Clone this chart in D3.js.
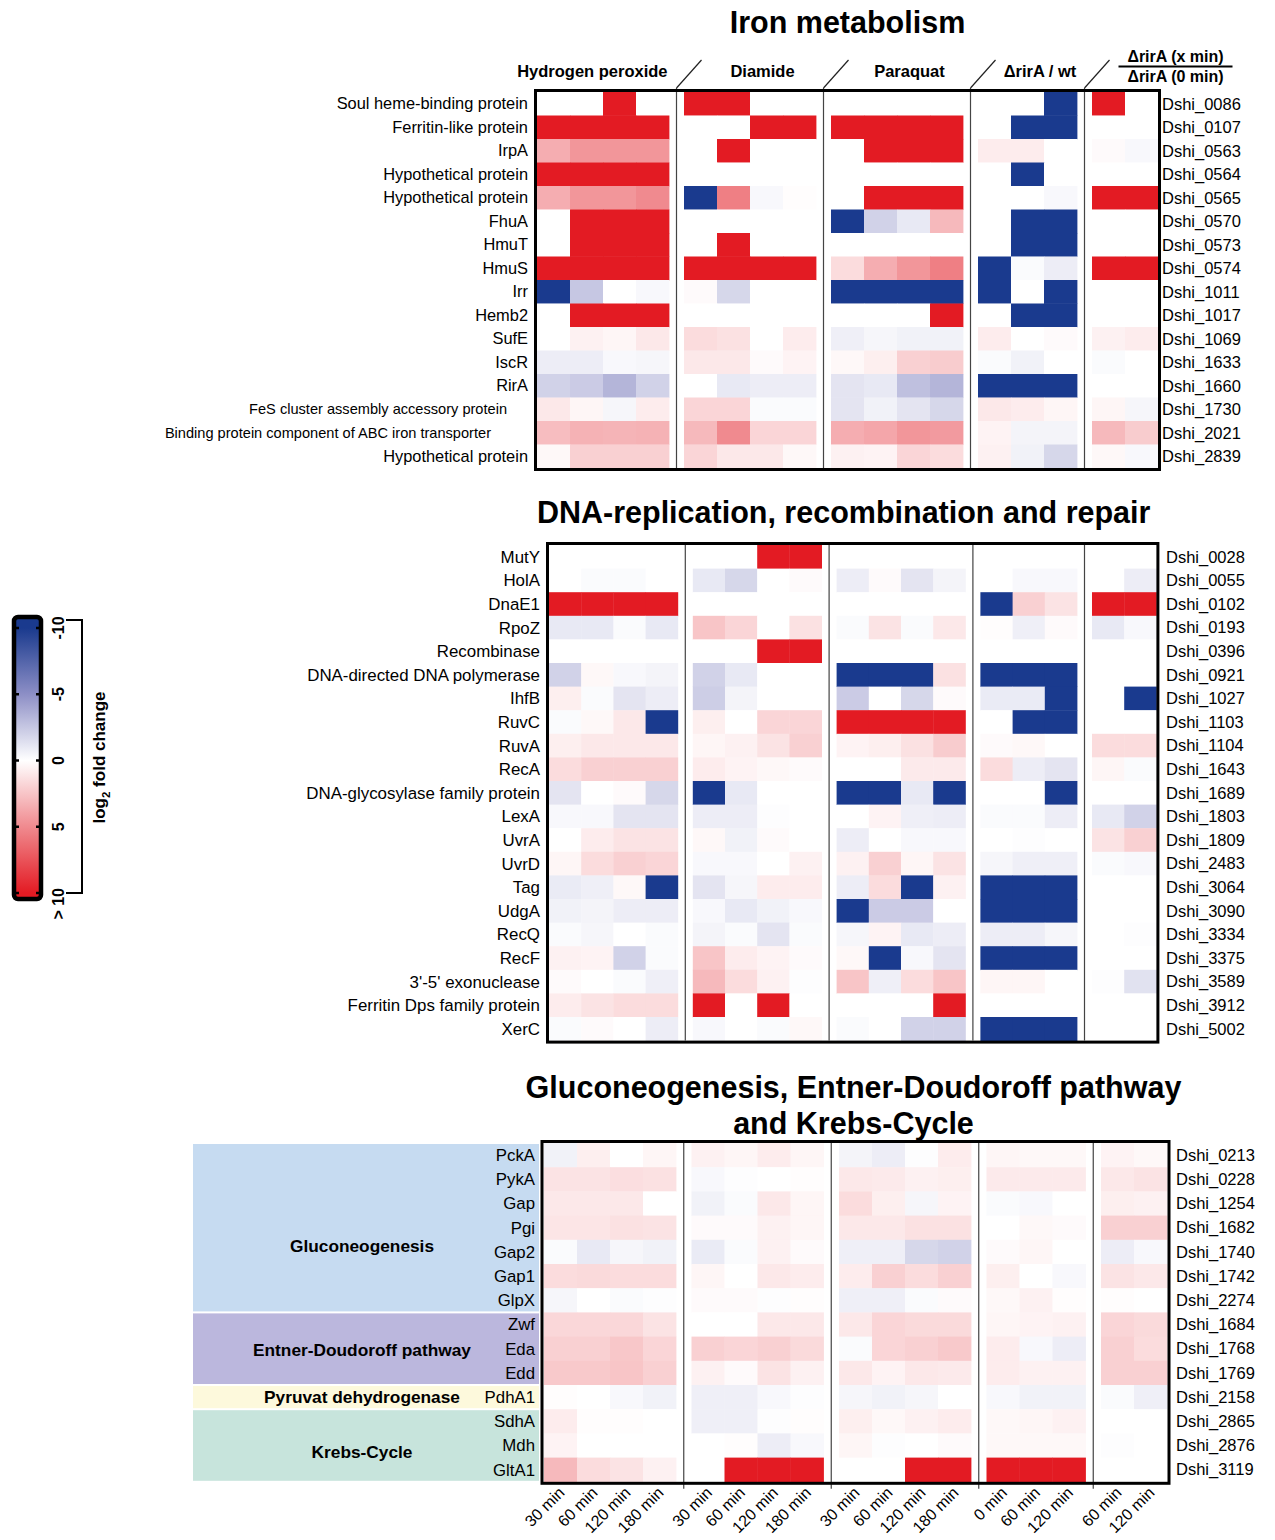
<!DOCTYPE html>
<html>
<head>
<meta charset="utf-8">
<script src="https://cdn.jsdelivr.net/npm/d3@7"></script>
<style>
  body { margin: 0; background: #fff; }
  svg { font-family: "Liberation Sans", Arial, Helvetica, sans-serif; }
</style>
</head>
<body>
<div id="chart"></div>
<script>
// ---- data ----
const conditions = ["Hydrogen peroxide", "Diamide", "Paraquat", "\u0394rirA / wt", "\u0394rirA (x min) / \u0394rirA (0 min)"];
const conditionTimes = [
  ["30 min", "60 min", "120 min", "180 min"],
  ["30 min", "60 min", "120 min", "180 min"],
  ["30 min", "60 min", "120 min", "180 min"],
  ["0 min", "60 min", "120 min"],
  ["60 min", "120 min"]
];

const ironGenes = ["Soul heme-binding protein", "Ferritin-like protein", "IrpA", "Hypothetical protein",
  "Hypothetical protein", "FhuA", "HmuT", "HmuS", "Irr", "Hemb2", "SufE", "IscR", "RirA",
  "FeS cluster assembly accessory protein", "Binding protein component of ABC iron transporter", "Hypothetical protein"];
const ironIds = ["Dshi_0086", "Dshi_0107", "Dshi_0563", "Dshi_0564", "Dshi_0565", "Dshi_0570", "Dshi_0573",
  "Dshi_0574", "Dshi_1011", "Dshi_1017", "Dshi_1069", "Dshi_1633", "Dshi_1660", "Dshi_1730", "Dshi_2021", "Dshi_2839"];
const ironValues = [
  [0, 0, 10, 0,   10, 10, 0, 0,   0, 0, 0, 0,   0, 0, -10,   10, 0],
  [10, 10, 10, 10,   0, 0, 10, 10,   10, 10, 10, 10,   0, -10, -10,   0, 0],
  [3.5, 4.5, 4.5, 4.5,   0, 10, 0, 0,   0, 10, 10, 10,   0.8, 0.8, 0,   0.2, -0.3],
  [10, 10, 10, 10,   0, 0, 0, 0,   0, 0, 0, 0,   0, -10, 0,   0, 0],
  [3.5, 4.5, 4.5, 5,   -10, 5.5, -0.3, 0.1,   0, 10, 10, 10,   0, 0, -0.3,   10, 10],
  [0, 10, 10, 10,   0, 0, 0, 0,   -10, -2, -1, 3,   0, -10, -10,   0, 0],
  [0, 10, 10, 10,   0, 10, 0, 0,   0, 0, 0, 0,   0, -10, -10,   0, 0],
  [10, 10, 10, 10,   10, 10, 10, 10,   1.5, 3.5, 4.5, 5.5,   -10, -0.2, -0.8,   10, 10],
  [-10, -2.5, 0, -0.3,   0.2, -1.8, 0, 0,   -10, -10, -10, -10,   -10, 0, -10,   0, 0],
  [0, 10, 10, 10,   0, 0, 0, 0,   0, 0, 0, 10,   0, -10, -10,   0, 0],
  [0, 0.6, 0.4, 1,   1.5, 1.3, 0, 0.8,   -0.7, -0.4, -0.6, -0.6,   0.8, 0, 0.2,   0.6, 0.8],
  [-0.8, -0.8, -0.3, -0.4,   1, 1, 0.2, 0.5,   0.3, 0.7, 2, 2.2,   -0.2, -0.6, 0,   -0.2, 0],
  [-2, -2.3, -3.3, -2,   0, -1, -0.8, -0.8,   -1.2, -1, -2.8, -3.3,   -10, -10, -10,   0, 0],
  [1, 0.4, -0.4, 0.8,   1.8, 1.8, -0.2, -0.2,   -1.2, -0.6, -1.2, -1.8,   1, 0.8, 0.4,   0.4, -0.4],
  [2.8, 3.3, 3.2, 3.3,   3, 5, 1.8, 1.8,   3.5, 3.8, 4.5, 4.3,   0.5, -0.5, -0.5,   3, 2.2],
  [0.3, 2, 2, 2,   1.8, 1, 1, 0.3,   0.6, 0.5, 1.8, 1.5,   0.6, -0.6, -1.8,   0.3, -0.3]
];

const dnaGenes = ["MutY", "HolA", "DnaE1", "RpoZ", "Recombinase", "DNA-directed DNA polymerase", "IhfB", "RuvC",
  "RuvA", "RecA", "DNA-glycosylase family protein", "LexA", "UvrA", "UvrD", "Tag", "UdgA", "RecQ", "RecF",
  "3'-5' exonuclease", "Ferritin Dps family protein", "XerC"];
const dnaIds = ["Dshi_0028", "Dshi_0055", "Dshi_0102", "Dshi_0193", "Dshi_0396", "Dshi_0921", "Dshi_1027",
  "Dshi_1103", "Dshi_1104", "Dshi_1643", "Dshi_1689", "Dshi_1803", "Dshi_1809", "Dshi_2483", "Dshi_3064",
  "Dshi_3090", "Dshi_3334", "Dshi_3375", "Dshi_3589", "Dshi_3912", "Dshi_5002"];
const dnaValues = [
  [0, 0, 0, 0,   0, 0, 10, 10,   0, 0, 0, 0,   0, 0, 0,   0, 0],
  [0, -0.2, -0.2, 0,   -1, -1.8, 0, 0.2,   -0.8, 0.2, -1.2, -0.5,   0, -0.3, -0.3,   0, -0.8],
  [10, 10, 10, 10,   0, 0, 0, 0,   0, 0, 0, 0,   -10, 2, 1.2,   10, 10],
  [-1, -1, -0.2, -1,   2.5, 1.8, 0, 1.3,   -0.2, 1.2, -0.2, 1,   0.1, -0.7, 0.2,   -1, -0.3],
  [0, 0, 0, 0,   0, 0, 10, 10,   0, 0, 0, 0,   0, 0, 0,   0, 0],
  [-2, 0.3, -0.3, -0.5,   -2, -1, 0, 0,   -10, -10, -10, 1.3,   -10, -10, -10,   0, 0],
  [0.7, -0.2, -1.2, -0.8,   -2.2, -0.5, 0, 0,   -2.3, 0, -1.8, 0.2,   -0.9, -0.9, -10,   0, -10],
  [-0.2, 0.3, 1, -10,   0.7, 0, 1.8, 1.8,   10, 10, 10, 10,   0, -10, -10,   0, 0],
  [0.7, 1, 1, 1,   0.4, 0.6, 1.2, 2,   0.5, 0.7, 1.3, 2.2,   0.2, 0.3, 0,   1.5, 1.5],
  [1.5, 2, 2, 2,   0.8, 0.5, 0.3, 0.2,   0, 0, 0.9, 0.9,   1.5, -0.8, -1.2,   0.4, -0.2],
  [-1.2, 0, 0.2, -1.8,   -10, -1, 0, 0,   -10, -10, -1, -10,   0, 0, -10,   0, 0],
  [-0.3, -0.3, -1.2, -1.2,   -0.8, -0.8, -0.1, 0,   0, 0.5, -0.7, -0.8,   -0.2, -0.2, -0.8,   -1, -2],
  [0, 0.8, 1.2, 1.2,   0.3, -0.6, 0.2, 0,   -0.8, 0, -0.3, -0.3,   0, -0.1, 0,   1.2, 2],
  [0.4, 1.5, 2, 1.8,   -0.3, -0.3, 0, 0.6,   0.6, 2, 0.4, 1.2,   -0.4, -0.7, -0.7,   -0.2, -0.3],
  [-0.9, -0.7, 0.3, -10,   -1.2, -0.4, 0.8, 0.8,   -0.8, 1.5, -10, 0.6,   -10, -10, -10,   0, 0],
  [-0.6, -0.5, -0.8, -0.8,   -0.3, -1, -0.6, -0.3,   -10, -2.3, -2.3, 0,   -10, -10, -10,   0, 0],
  [-0.2, -0.4, 0, -0.2,   -0.5, -0.2, -1.2, -0.2,   -0.4, 0.5, -1, -0.8,   -0.8, -0.8, -0.4,   0, -0.1],
  [0.6, 0.5, -2, -0.2,   2.5, 0.8, 0.5, 0.2,   0.3, -10, -0.3, -1.2,   -10, -10, -10,   0, 0],
  [0.2, 0, -0.2, -0.7,   3, 1.5, 0.6, -0.1,   2.5, -0.7, 1.5, 2.5,   0.4, 0.4, 0,   -0.1, -1.3],
  [0.8, 1.2, 1.5, 1.5,   10, 0, 10, 0,   0, 0, 0, 10,   0, 0, 0,   0, 0],
  [-0.2, 0.2, 0, -0.8,   -0.3, 0, -0.2, 0.3,   -0.2, 0, -2, -2,   -10, -10, -10,   0, 0]
];

const glucoGenes = ["PckA", "PykA", "Gap", "Pgi", "Gap2", "Gap1", "GlpX", "Zwf", "Eda", "Edd", "PdhA1", "SdhA", "Mdh", "GltA1"];
const glucoIds = ["Dshi_0213", "Dshi_0228", "Dshi_1254", "Dshi_1682", "Dshi_1740", "Dshi_1742", "Dshi_2274",
  "Dshi_1684", "Dshi_1768", "Dshi_1769", "Dshi_2158", "Dshi_2865", "Dshi_2876", "Dshi_3119"];
const glucoValues = [
  [-0.6, 0.7, 0, 0.4,   0.6, 0.4, 0.8, 0.4,   -0.5, -0.8, -0.1, 0.8,   0.4, 0.3, 0.3,   0.5, 0.3],
  [1.2, 1.2, 1.4, 1.3,   -0.3, -0.1, 0, 0.1,   1, 0.9, 0.6, 0.7,   0.9, 0.9, 0.9,   1, 1.2],
  [1, 1, 1, 0,   -0.6, -0.2, 1, 0.4,   1.5, 0.7, -0.4, 0.5,   -0.2, -0.3, 0,   0.7, 0.6],
  [1.1, 1.1, 1.3, 1.2,   0.2, 0.2, 0.6, 0.4,   1, 1, 1.3, 1.3,   0, 0.3, 0.2,   2, 2],
  [-0.2, -1, -0.4, -0.6,   -0.9, -0.2, 0.6, 0.2,   -0.7, -0.7, -1.8, -2,   0.2, 0.4, 0,   -0.8, -0.3],
  [1.5, 1.6, 1.5, 1.5,   0.4, 0, 1, 0.8,   0.8, 2, 1.5, 2,   0.7, 0, -0.3,   1.2, 1],
  [-0.4, 0, -0.2, -0.1,   0.2, 0.2, -0.1, 0.1,   -0.7, -0.7, -0.2, 0.2,   0.3, 0.6, 0.1,   0.1, 0],
  [1.7, 1.7, 1.7, 1.2,   0, 0, 1, 1,   1, 1.8, 1.6, 1.6,   0.4, 0.5, 0.6,   1.8, 1.6],
  [2, 2, 2.4, 1.8,   2, 1.8, 2, 1.6,   -0.2, 1.8, 2, 2.3,   0.8, -0.3, -0.8,   2, 1.5],
  [2.3, 2.3, 2.5, 2,   0.6, 0.2, 1.2, 0.6,   1, 0.5, 1, 0.9,   0.8, 0.6, 0.6,   2, 2],
  [0.1, 0, -0.3, -0.6,   -0.7, -0.7, -0.3, -0.1,   -0.4, -0.6, -0.4, 0,   -0.3, -0.6, -0.6,   -0.2, -0.7],
  [0.8, 0.1, 0.1, 0,   -0.7, -0.7, -0.1, 0.1,   0.7, 0.3, 0.6, 0.8,   0.3, 0.4, 0.6,   0, 0],
  [0.5, 0, 0, 0,   0, 0.1, -0.8, -0.3,   0.4, -0.1, 0, 0.2,   0.3, 0.3, 0.3,   -0.1, 0],
  [3, 1.5, 1.2, 0.6,   0, 10, 10, 10,   0, 0, 10, 10,   10, 10, 10,   0, 0]
];
const glucoGroupNames = ["Gluconeogenesis", "Entner-Doudoroff pathway", "Pyruvat dehydrogenase", "Krebs-Cycle"];
const glucoGroupSizes = [7, 3, 1, 3];

const colorTicks = [-10, -5, 0, 5, 10];
const colorTickLabels = ["-10", "-5", "0", "5", "> 10"];

// ---- drawing ----
const width = 1275, height = 1540;
const svg = d3.select("#chart").append("svg")
  .attr("width", width)
  .attr("height", height);

const color = d3.scaleLinear()
  .domain([-10, -5, 0, 5, 10])
  .range(["#1a3a8e", "#8d8fc6", "#ffffff", "#f08a8f", "#e31b23"])
  .clamp(true);

const columns = conditionTimes.flatMap((times, g) => times.map(t => ({ g, t })));

function drawPanel(cfg, genes, ids, values) {
  const g = svg.append("g");
  let start = cfg.x0;
  const xs = conditionTimes.map(times => {
    const s = d3.scaleBand().domain(times).range([start, start + times.length * cfg.cellW]);
    start += times.length * cfg.cellW + cfg.gap;
    return s;
  });
  const right = xs[xs.length - 1].range()[1];
  const y = d3.scaleBand().domain(d3.range(genes.length))
    .range([cfg.top, cfg.top + genes.length * cfg.rowH]);
  const bottom = y.range()[1];

  // cells
  values.forEach((row, r) => {
    g.selectAll(null)
      .data(row)
      .enter().append("rect")
      .attr("x", (d, i) => xs[columns[i].g](columns[i].t))
      .attr("y", y(r))
      .attr("width", xs[0].bandwidth() + 0.4)
      .attr("height", y.bandwidth() + 0.4)
      .attr("fill", d => color(d));
  });

  // separators
  const seps = d3.range(xs.length - 1).map(i => (xs[i].range()[1] + xs[i + 1].range()[0]) / 2);
  g.selectAll(".sep").data(seps).enter().append("line")
    .attr("x1", d => d).attr("x2", d => d)
    .attr("y1", cfg.sepTop != null ? cfg.sepTop : cfg.top)
    .attr("y2", bottom + (cfg.sepExtra || 0))
    .attr("stroke", "#444").attr("stroke-width", 1.2);

  // frame
  g.append("rect")
    .attr("x", cfg.x0 - cfg.pad).attr("y", cfg.top - 1.5)
    .attr("width", right - cfg.x0 + 2 * cfg.pad).attr("height", bottom - cfg.top + 3)
    .attr("fill", "none").attr("stroke", "#000").attr("stroke-width", 3);

  // gene labels
  g.selectAll(".gene").data(genes).enter().append("text")
    .attr("x", (d, i) => cfg.labelX - ((cfg.labelShift && cfg.labelShift[i]) || 0))
    .attr("y", (d, i) => y(i) + y.bandwidth() / 2)
    .attr("dy", "0.35em")
    .attr("text-anchor", "end")
    .attr("font-size", (d, i) => (cfg.labelShift && cfg.labelShift[i] != null) ? 14.6 : cfg.labelSize)
    .text(d => d);

  g.selectAll(".id").data(ids).enter().append("text")
    .attr("x", cfg.idX)
    .attr("y", (d, i) => y(i) + y.bandwidth() / 2)
    .attr("dy", "0.35em")
    .attr("font-size", 16.5)
    .text(d => d);

  // title
  cfg.title.forEach((line, i) => {
    g.append("text")
      .attr("x", (cfg.x0 + right) / 2 + (cfg.titleDx || 0))
      .attr("y", cfg.titleY + i * 36)
      .attr("text-anchor", "middle")
      .attr("font-size", 30.5).attr("font-weight", "bold")
      .text(line);
  });

  return { xs, y, seps, right, bottom, g };
}

// Iron metabolism
const iron = drawPanel({
  x0: 537, cellW: 33, gap: 15, top: 92, rowH: 23.5, pad: 1.5, sepTop: 88,
  labelX: 528, labelSize: 16.4, idX: 1162, labelShift: { 13: 21, 14: 37 },
  title: ["Iron metabolism"], titleY: 33
}, ironGenes, ironIds, ironValues);

// header with slashes
const slashDx = 25, slashDy = 28;
iron.g.selectAll(".slash").data(iron.seps).enter().append("line")
  .attr("x1", d => d).attr("y1", 88)
  .attr("x2", d => d + slashDx).attr("y2", 88 - slashDy)
  .attr("stroke", "#222").attr("stroke-width", 1.2);

const headerY = 77;
conditions.forEach((name, i) => {
  const t = iron.g.append("text").attr("font-size", 16.5).attr("font-weight", "bold");
  if (i === 0) {
    t.attr("x", iron.seps[0] - 9).attr("y", headerY).attr("text-anchor", "end").text(name);
  } else if (i < conditions.length - 1) {
    t.attr("x", (iron.seps[i - 1] + slashDx + iron.seps[i]) / 2).attr("y", headerY)
      .attr("text-anchor", "middle").text(name);
  } else {
    t.remove();
    const parts = name.split(" / ");
    const cx = iron.seps[i - 1] + slashDx + 66;
    iron.g.append("text").attr("x", cx).attr("y", 62).attr("text-anchor", "middle")
      .attr("font-size", 16).attr("font-weight", "bold").text(parts[0]);
    iron.g.append("line").attr("x1", cx - 57).attr("x2", cx + 57).attr("y1", 66.5).attr("y2", 66.5)
      .attr("stroke", "#000").attr("stroke-width", 2);
    iron.g.append("text").attr("x", cx).attr("y", 82).attr("text-anchor", "middle")
      .attr("font-size", 16).attr("font-weight", "bold").text(parts[1]);
  }
});

// DNA replication
drawPanel({
  x0: 549, cellW: 32.2, gap: 15, top: 545, rowH: 23.6, pad: 1.5,
  labelX: 540, labelSize: 16.9, idX: 1166,
  title: ["DNA-replication, recombination and repair"], titleY: 523, titleDx: -9
}, dnaGenes, dnaIds, dnaValues);

// Gluconeogenesis
const glu = drawPanel({
  x0: 544, cellW: 33, gap: 15.5, top: 1143, rowH: 24.2, pad: 2, sepExtra: 7,
  labelX: 535, labelSize: 16.8, idX: 1176,
  title: ["Gluconeogenesis, Entner-Doudoroff pathway", "and Krebs-Cycle"], titleY: 1098, titleDx: -2
}, glucoGenes, glucoIds, glucoValues);

// category boxes
const groupFills = ["#c6dbf1", "#bbb7dd", "#fdf9dc", "#c7e4dc"];
const groupLabelDy = [18, 1, 0, 6];
let rowStart = 0;
glucoGroupNames.forEach((name, i) => {
  const y0 = glu.y(rowStart);
  const y1 = glu.y(rowStart + glucoGroupSizes[i] - 1) + glu.y.bandwidth();
  glu.g.insert("rect", ":first-child")
    .attr("x", 193).attr("y", y0 + 1)
    .attr("width", 346).attr("height", y1 - y0 - 2)
    .attr("fill", groupFills[i]);
  glu.g.append("text")
    .attr("x", 362).attr("y", (y0 + y1) / 2 + groupLabelDy[i]).attr("dy", "0.35em")
    .attr("text-anchor", "middle").attr("font-size", 17.3).attr("font-weight", "bold")
    .text(name);
  rowStart += glucoGroupSizes[i];
});

// time labels below gluco panel
glu.g.selectAll(".time").data(columns).enter().append("text")
  .attr("transform", d => `translate(${glu.xs[d.g](d.t) + glu.xs[d.g].bandwidth() / 2 + 5},${glu.bottom + 12}) rotate(-45)`)
  .attr("text-anchor", "end")
  .attr("font-size", 16)
  .text(d => d.t);

// ---- colour bar ----
const cb = svg.append("g");
const cbTop = 617, cbBottom = 899, cbX = 14, cbW = 27;
const cbY = d3.scaleLinear().domain([-10, 10]).range([628, 893]);
const grad = svg.append("defs").append("linearGradient")
  .attr("id", "cbgrad").attr("x1", 0).attr("x2", 0).attr("y1", 0).attr("y2", 1);
d3.range(-10, 10.5, 1).forEach(v => {
  grad.append("stop")
    .attr("offset", (cbY(v) - cbTop) / (cbBottom - cbTop))
    .attr("stop-color", color(v));
});
cb.append("rect")
  .attr("x", cbX).attr("y", cbTop).attr("width", cbW).attr("height", cbBottom - cbTop)
  .attr("rx", 4).attr("fill", "url(#cbgrad)")
  .attr("stroke", "#000").attr("stroke-width", 4.5);
cb.selectAll(".tl").data(colorTicks).enter().append("line")
  .attr("x1", cbX + 1).attr("x2", cbX + 5)
  .attr("y1", d => cbY(d)).attr("y2", d => cbY(d))
  .attr("stroke", "#000").attr("stroke-width", 2.5);
cb.selectAll(".tr").data(colorTicks).enter().append("line")
  .attr("x1", cbX + cbW - 5).attr("x2", cbX + cbW - 1)
  .attr("y1", d => cbY(d)).attr("y2", d => cbY(d))
  .attr("stroke", "#000").attr("stroke-width", 2.5);
cb.selectAll(".lab").data(colorTicks).enter().append("text")
  .attr("transform", (d, i) => `translate(58,${i === colorTicks.length - 1 ? cbY(d) - 5 : cbY(d)}) rotate(-90)`)
  .attr("text-anchor", (d, i) => i === colorTicks.length - 1 ? "end" : "middle")
  .attr("dy", "0.35em")
  .attr("font-size", 16).attr("font-weight", "bold")
  .text((d, i) => colorTickLabels[i]);
cb.append("path")
  .attr("d", `M66,${cbY(-10) - 8}H82V${cbY(10)}H66`)
  .attr("fill", "none").attr("stroke", "#000").attr("stroke-width", 2);
const lg = cb.append("text")
  .attr("transform", `translate(99,${cbY(0) - 3}) rotate(-90)`)
  .attr("text-anchor", "middle").attr("dy", "0.35em")
  .attr("font-size", 17).attr("font-weight", "bold");
lg.append("tspan").text("log");
lg.append("tspan").attr("font-size", 11.5).attr("dy", 5).text("2");
lg.append("tspan").attr("dy", -5).text(" fold change");
</script>
</body>
</html>
